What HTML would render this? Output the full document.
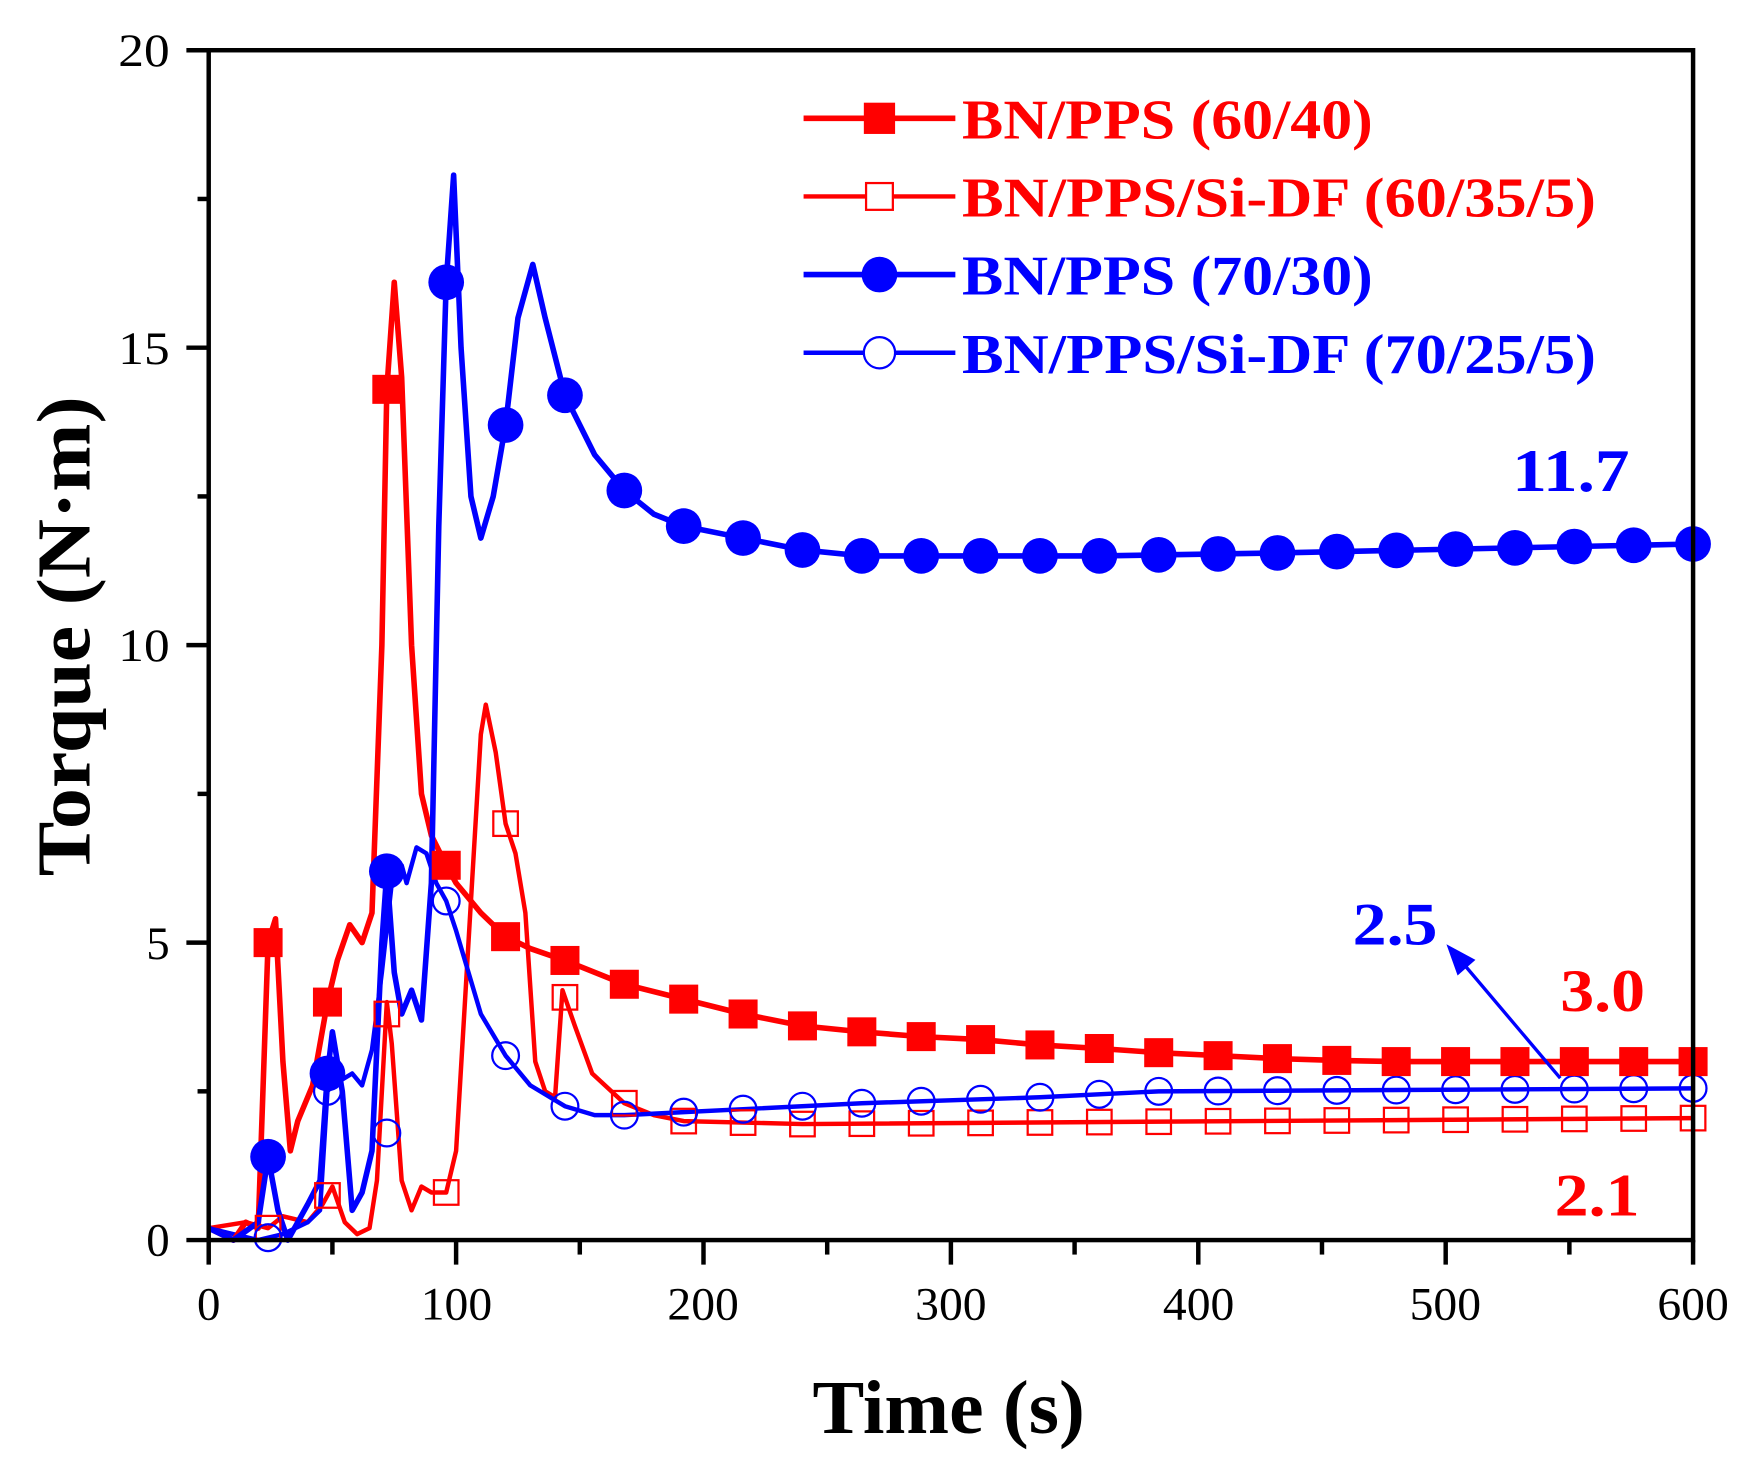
<!DOCTYPE html>
<html><head><meta charset="utf-8"><style>
html,body{margin:0;padding:0;background:#fff;}
svg{display:block;}
text{font-family:"Liberation Serif",serif;}
</style></head><body>
<svg id="s" width="1750" height="1470" viewBox="0 0 1568 1317" preserveAspectRatio="none" xmlns="http://www.w3.org/2000/svg">
<rect width="1568" height="1317" fill="#fff"/>
<g id="plot"></g>
<rect x="187" y="45" width="1330" height="1066" fill="none" stroke="#000" stroke-width="4"/>
<g id="ticks" stroke="#000" stroke-width="4"></g>
<g font-size="42" text-anchor="end" fill="#000">
<text x="152" y="1125">0</text>
<text x="152" y="859">5</text>
<text x="152" y="592" textLength="46" lengthAdjust="spacingAndGlyphs">10</text>
<text x="152" y="326" textLength="46" lengthAdjust="spacingAndGlyphs">15</text>
<text x="152" y="59" textLength="46" lengthAdjust="spacingAndGlyphs">20</text>
</g>
<g font-size="42" text-anchor="middle" fill="#000">
<text x="187" y="1182">0</text>
<text x="409" y="1182" textLength="64" lengthAdjust="spacingAndGlyphs">100</text>
<text x="630" y="1182" textLength="64" lengthAdjust="spacingAndGlyphs">200</text>
<text x="852" y="1182" textLength="64" lengthAdjust="spacingAndGlyphs">300</text>
<text x="1074" y="1182" textLength="64" lengthAdjust="spacingAndGlyphs">400</text>
<text x="1295" y="1182" textLength="64" lengthAdjust="spacingAndGlyphs">500</text>
<text x="1517" y="1182" textLength="64" lengthAdjust="spacingAndGlyphs">600</text>
</g>
<text x="728" y="1284" font-size="68" font-weight="bold" textLength="244" lengthAdjust="spacingAndGlyphs">Time (s)</text>
<text transform="translate(80,785) rotate(-90)" font-size="68" font-weight="bold" textLength="430" lengthAdjust="spacingAndGlyphs">Torque (N·m)</text>
<g font-size="50" font-weight="bold">
<line x1="720" y1="106" x2="856" y2="106" stroke="#f00" stroke-width="5"/>
<rect x="774" y="92" width="28" height="28" fill="#f00"/>
<text x="862" y="124" fill="#f00" textLength="368" lengthAdjust="spacingAndGlyphs">BN/PPS (60/40)</text>
<line x1="720" y1="176" x2="856" y2="176" stroke="#f00" stroke-width="4"/>
<rect x="776" y="164" width="24" height="24" fill="#fff" stroke="#f00" stroke-width="2"/>
<text x="862" y="194" fill="#f00" textLength="568" lengthAdjust="spacingAndGlyphs">BN/PPS/Si-DF (60/35/5)</text>
<line x1="720" y1="246" x2="856" y2="246" stroke="#00f" stroke-width="5"/>
<circle cx="788" cy="246" r="16" fill="#00f"/>
<text x="862" y="264" fill="#00f" textLength="368" lengthAdjust="spacingAndGlyphs">BN/PPS (70/30)</text>
<line x1="720" y1="316" x2="856" y2="316" stroke="#00f" stroke-width="4"/>
<circle cx="788" cy="316" r="14" fill="#fff" stroke="#00f" stroke-width="2"/>
<text x="862" y="334" fill="#00f" textLength="568" lengthAdjust="spacingAndGlyphs">BN/PPS/Si-DF (70/25/5)</text>
</g>
<g font-size="54" font-weight="bold">
<text x="1355" y="440" fill="#00f" textLength="105" lengthAdjust="spacingAndGlyphs">11.7</text>
<text x="1398" y="906" fill="#f00" textLength="76" lengthAdjust="spacingAndGlyphs">3.0</text>
<text x="1393" y="1089" fill="#f00" textLength="76" lengthAdjust="spacingAndGlyphs">2.1</text>
<text x="1212" y="846" fill="#00f" textLength="76" lengthAdjust="spacingAndGlyphs">2.5</text>
</g>
<line x1="1398" y1="966" x2="1310" y2="862" stroke="#00f" stroke-width="3"/>
<polygon points="1296,846 1322,860 1306,874" fill="#00f"/>
</svg>
<script>
var X=function(t){return 187+t*1330/600;},Y=function(v){return 1111-v*53.3;};
var NS="http://www.w3.org/2000/svg",P=document.getElementById("plot"),T=document.getElementById("ticks");
function el(n,a,p){var e=document.createElementNS(NS,n);for(var k in a)e.setAttribute(k,a[k]);(p||P).appendChild(e);return e;}
function interp(d,t){for(var i=0;i<d.length-1;i++){if(t>=d[i][0]&&t<=d[i+1][0]){var f=(t-d[i][0])/(d[i+1][0]-d[i][0]);return d[i][1]+f*(d[i+1][1]-d[i][1]);}}return d[d.length-1][1];}
function line(d,c,w){el("polyline",{points:d.map(function(p){return X(p[0])+","+Y(p[1]);}).join(" "),fill:"none",stroke:c,"stroke-width":w,"stroke-linejoin":"round"});}
var ticks=[];for(var t=0;t<=600;t+=24)ticks.push(t);
var redF=[[0,0.2],[10,0],[15,0.3],[20,0.2],[24,5.0],[27,5.4],[30,3],[33,1.5],[36,2],[42,2.6],[48,4.0],[52,4.7],[57,5.3],[62,5.0],[66,5.5],[70,10],[72,14.3],[75,16.1],[78,14.5],[82,10],[86,7.5],[90,6.8],[96,6.3],[100,6.0],[110,5.5],[120,5.1],[130,4.9],[144,4.7],[168,4.3],[192,4.05],[216,3.8],[240,3.6],[264,3.5],[288,3.42],[312,3.37],[336,3.28],[360,3.22],[384,3.15],[408,3.1],[432,3.05],[456,3.02],[480,3.0],[600,3.0]];
var redO=[[0,0.2],[15,0.3],[24,0.2],[30,0.4],[40,0.3],[46,0.6],[50,0.9],[55,0.3],[60,0.1],[65,0.2],[68,1.0],[72,4.0],[74,3.3],[78,1],[82,0.5],[86,0.9],[90,0.8],[96,0.8],[100,1.5],[105,5],[110,8.5],[112,9],[116,8.2],[120,7.0],[124,6.5],[128,5.5],[132,3],[136,2.5],[140,2.4],[143,4.2],[148,3.6],[155,2.8],[168,2.3],[180,2.1],[192,2.0],[240,1.95],[600,2.05]];
var blueF=[[0,0.2],[10,0],[20,0.3],[24,1.4],[28,0.5],[32,0],[40,0.6],[45,1],[48,2.8],[50,3.5],[54,2.5],[58,0.5],[62,0.8],[66,1.5],[70,5],[72,6.2],[75,4.5],[78,3.8],[82,4.2],[86,3.7],[90,6],[93,12],[96,16.1],[99,17.9],[102,15],[106,12.5],[110,11.8],[115,12.5],[120,13.7],[125,15.5],[131,16.4],[136,15.5],[144,14.2],[156,13.2],[168,12.6],[180,12.2],[192,12.0],[216,11.8],[240,11.6],[264,11.5],[312,11.5],[360,11.5],[432,11.55],[600,11.7]];
var blueO=[[0,0.2],[10,0.1],[20,0],[30,0.1],[40,0.3],[45,0.5],[48,2.5],[50,2.6],[54,2.7],[58,2.8],[62,2.6],[66,3.2],[70,4.5],[74,6],[78,6.3],[80,6.0],[84,6.6],[88,6.5],[92,6.0],[96,5.7],[100,5.2],[105,4.5],[110,3.8],[120,3.1],[130,2.6],[144,2.25],[156,2.1],[168,2.1],[192,2.15],[216,2.2],[264,2.3],[336,2.4],[384,2.5],[600,2.55]];
line(redO,"#f00",4);line(blueO,"#00f",4);line(redF,"#f00",5);line(blueF,"#00f",5);
ticks.forEach(function(t){if(t==0)return;var x=X(t);
 el("rect",{x:x-11,y:Y(t==72?3.8:interp(redO,t))-11,width:22,height:22,fill:"none",stroke:"#f00","stroke-width":2});
 el("circle",{cx:x,cy:Y(t==72?1.8:interp(blueO,t)),r:12,fill:"none",stroke:"#00f","stroke-width":2});
 el("rect",{x:x-13,y:Y(interp(redF,t))-13,width:26,height:26,fill:"#f00"});
 el("circle",{cx:x,cy:Y(interp(blueF,t)),r:16,fill:"#00f"});
});
for(var t=0;t<=600;t+=50){var x=X(t);el("line",{x1:x,y1:1111,x2:x,y2:t%100==0?1133:1124},T);}
for(var v=0;v<=20;v+=2.5){var y=Y(v);el("line",{x1:187,y1:y,x2:v%5==0?167:177,y2:y},T);}
</script>
</body></html>
